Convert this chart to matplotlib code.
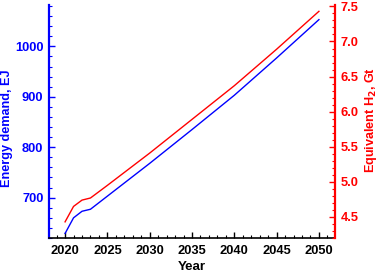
import matplotlib
matplotlib.use("Agg")
import matplotlib.pyplot as plt
from matplotlib.ticker import MultipleLocator

years = [2020, 2021, 2022, 2023, 2024, 2025, 2030, 2035, 2040, 2045, 2050]
energy_ej = [629, 660, 673, 677, 690, 703, 768, 835, 903, 977, 1053]
h2_gt = [4.43, 4.65, 4.74, 4.77, 4.86, 4.95, 5.41, 5.89, 6.37, 6.89, 7.43]

plt.rcParams['font.family'] = ['Liberation Sans', 'DejaVu Sans']
plt.rcParams['font.weight'] = 'bold'
plt.rcParams['mathtext.default'] = 'bf'

fig = plt.figure(figsize=(3.78, 2.72), dpi=100)
ax = fig.add_axes([49/378, 1-238/272, (335-49)/378, (238-5)/272])
ax2 = ax.twinx()

ax.plot(years, energy_ej, color='#0000ff', lw=1.0)
ax2.plot(years, h2_gt, color='#ff0000', lw=1.0)

ax.set_xlim(2018.1, 2051.9)
ax.set_ylim(620, 1082)
ax2.set_ylim(4.2, 7.52)

ax.xaxis.set_major_locator(MultipleLocator(5))
ax.xaxis.set_minor_locator(MultipleLocator(1))
ax.yaxis.set_major_locator(MultipleLocator(100))
ax.yaxis.set_minor_locator(MultipleLocator(20))
ax2.yaxis.set_major_locator(MultipleLocator(0.5))
ax2.yaxis.set_minor_locator(MultipleLocator(0.1))
ax2.yaxis.set_major_formatter(plt.FormatStrFormatter('%.1f'))

for a in (ax, ax2):
    a.spines['top'].set_visible(False)

ax.spines['left'].set_color('#0000ff')
ax.spines['left'].set_linewidth(1.6)
ax.spines['right'].set_visible(False)
ax2.spines['left'].set_visible(False)
ax2.spines['bottom'].set_visible(False)
ax2.spines['right'].set_color('#ff0000')
ax2.spines['right'].set_linewidth(1.6)
ax.spines['bottom'].set_linewidth(1.2)

ts = 9.3
ax.tick_params(axis='x', which='both', direction='in', labelsize=ts, colors='black', pad=5)
ax.tick_params(axis='x', which='major', length=4, width=1)
ax.tick_params(axis='x', which='minor', length=2, width=0.8)
ax.tick_params(axis='y', which='both', direction='in', colors='#0000ff', labelsize=ts, pad=4)
ax.tick_params(axis='y', which='major', length=4, width=1)
ax.tick_params(axis='y', which='minor', length=2, width=0.8)
ax2.tick_params(axis='y', which='both', direction='in', colors='#ff0000', labelsize=ts, pad=4)
ax2.tick_params(axis='y', which='major', length=4, width=1)
ax2.tick_params(axis='y', which='minor', length=2, width=0.8)

for lbl in ax.get_xticklabels() + ax.get_yticklabels() + ax2.get_yticklabels():
    lbl.set_fontweight('bold')

ax.set_xlabel('Year', fontsize=9.6, fontweight='bold', labelpad=3)
ax.set_ylabel('Energy demand, EJ', fontsize=9.1, fontweight='bold', color='#0000ff')
ax2.set_ylabel('Equivalent H$_2$, Gt', fontsize=9.1, fontweight='bold', color='#ff0000')
ax.yaxis.set_label_coords((13 - 49) / 286, (238 - 128) / 233)
ax2.yaxis.set_label_coords((363 - 49) / 286, (238 - 120) / 233)

fig.savefig('out.png', dpi=100)
